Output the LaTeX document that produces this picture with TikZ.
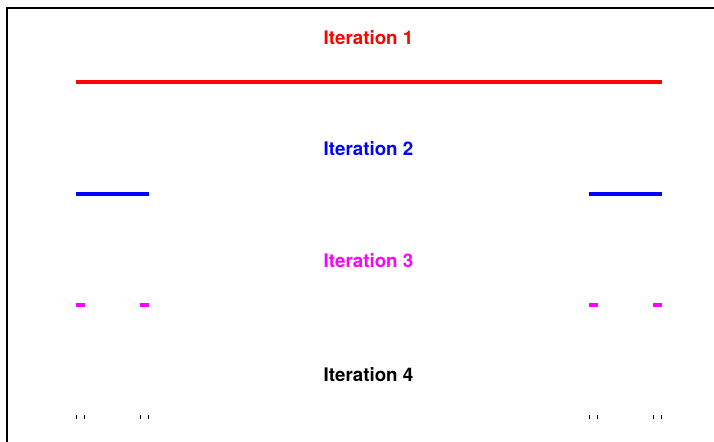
\documentclass[tikz,border=0pt]{standalone}
\usepackage{fontspec}
\setmainfont{TeX Gyre Heros}
\definecolor{itred}{RGB}{255,0,0}
\definecolor{itblue}{RGB}{0,0,255}
\definecolor{itmagenta}{RGB}{255,0,255}
\begin{document}
\begin{tikzpicture}[x=1bp,y=-1bp,
  seg/.style={line width=4bp,line cap=butt},
  itlabel/.style={font=\bfseries\fontsize{18.8}{22}\selectfont,anchor=base,inner sep=0pt}]
\useasboundingbox (0,0) rectangle (714,442);
% partial frame
\draw[line width=2.2bp] (7,443) -- (7,8) -- (715,8);
% Cantor-type construction, keeping 1/8 at each end
\pgfmathsetmacro{\L}{586}
\pgfmathsetmacro{\a}{\L/8}
\pgfmathsetmacro{\b}{\a/8}
\pgfmathsetmacro{\c}{\b/8}
\node[itlabel,text=itred] (t1) at (368.5,44.5) {Iteration 1};
\draw[seg,itred] (76,82.3) -- (662,82.3);
\node[itlabel,text=itblue] (t2) at (368.5,156) {Iteration 2};
\foreach \i in {0,1}
  \draw[seg,itblue] ({76+\i*(\L-\a)},194) -- ++(\a,0);
\node[itlabel,text=itmagenta] (t3) at (368.5,268) {Iteration 3};
\foreach \i in {0,1}
  \foreach \j in {0,1}
    \draw[seg,itmagenta] ({76+\i*(\L-\a)+\j*(\a-\b)},305.5) -- ++(\b,0);
\node[itlabel,text=black] (t4) at (368.5,381) {Iteration 4};
\foreach \i in {0,1}
  \foreach \j in {0,1}
    \foreach \k in {0,1}
      \draw[seg,black] ({76+\i*(\L-\a)+\j*(\a-\b)+\k*(\b-\c)},417) -- ++(\c,0);
\end{tikzpicture}
\end{document}
